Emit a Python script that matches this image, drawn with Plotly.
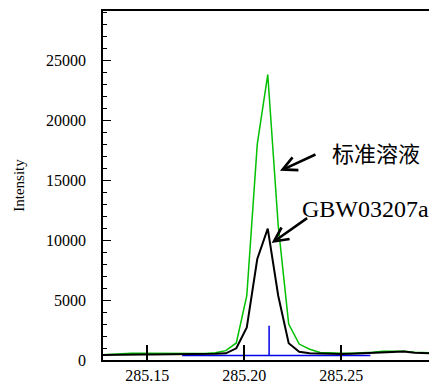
import plotly.graph_objects as go

# wavelength positions (nm) of sampled points
wavelength = [285.1257, 285.1311, 285.1365, 285.1419, 285.1473, 285.1527, 285.1581,
              285.1635, 285.1689, 285.1743, 285.1797, 285.1851, 285.1905, 285.1959,
              285.2013, 285.2067, 285.2121, 285.2175, 285.2229, 285.2283, 285.2337,
              285.2391, 285.2445, 285.2499, 285.2553, 285.2607, 285.2661, 285.2715,
              285.2769, 285.2823, 285.2877, 285.2931, 285.2985]

standard_solution = [420, 480, 540, 560, 560, 560, 560,
                     560, 560, 530, 540, 600, 780, 1420,
                     5360, 18000, 23800, 11200, 3000, 1330, 900,
                     620, 560, 560, 560, 590, 640, 720,
                     750, 740, 640, 600, 600]

gbw03207a = [420, 440, 450, 455, 455, 455, 460,
             460, 460, 480, 500, 520, 560, 975,
             2720, 8420, 10950, 5360, 1400, 680, 560,
             520, 500, 500, 520, 560, 620, 680,
             720, 700, 600, 560, 560]

ref_x = [285.168, 285.2128, 285.2128, 285.2128, 285.265]
ref_y = [380, 380, 2850, 380, 380]

x_tickvals = [285.15, 285.20, 285.25]
x_ticktext = ["285.15", "285.20", "285.25"]
y_tickvals = [0, 5000, 10000, 15000, 20000, 25000]
y_ticktext = ["0", "5000", "10000", "15000", "20000", "25000"]

label_std = "标准溶液"
label_gbw = "GBW03207a"

SERIF = "Liberation Serif, Times New Roman, serif"

fig = go.Figure()
fig.add_trace(go.Scatter(x=ref_x, y=ref_y, mode="lines",
                         line=dict(color="#0000e6", width=1.5), showlegend=False))
fig.add_trace(go.Scatter(x=wavelength, y=standard_solution, mode="lines",
                         line=dict(color="#00c000", width=1.5), showlegend=False))
fig.add_trace(go.Scatter(x=wavelength, y=gbw03207a, mode="lines",
                         line=dict(color="black", width=2), showlegend=False))

# arrows
fig.add_annotation(x=285.2184, y=15775, ax=37, ay=-17, axref="pixel", ayref="pixel",
                   text="", showarrow=True, arrowhead=5, arrowsize=1.1, arrowwidth=2.5,
                   arrowcolor="black")
fig.add_annotation(x=285.2141, y=9750, ax=37, ay=-26, axref="pixel", ayref="pixel",
                   text="", showarrow=True, arrowhead=5, arrowsize=1.1, arrowwidth=2.5,
                   arrowcolor="black")
# labels
fig.add_annotation(x=285.2701, y=17167, text=label_std, showarrow=False,
                   xanchor="center", yanchor="middle", xshift=-4, yshift=2,
                   font=dict(family="Noto Sans CJK SC", size=22, color="black"))
fig.add_annotation(x=285.2302, y=12583, text=label_gbw, showarrow=False,
                   xanchor="left", yanchor="middle", xshift=-3,
                   font=dict(family=SERIF, size=24, color="black"))

fig.update_layout(
    width=429, height=384,
    margin=dict(l=103, r=0, t=11, b=24),
    paper_bgcolor="white", plot_bgcolor="white",
    font=dict(family=SERIF, size=16, color="black"),
)
fig.update_xaxes(
    range=[285.1272, 285.2952],
    tickmode="array", tickvals=x_tickvals, ticktext=x_ticktext,
    ticks="inside", ticklen=15, tickwidth=1.5, tickcolor="black",
    showline=True, linecolor="black", linewidth=2, mirror=True,
    showgrid=False, zeroline=False,
    tickfont=dict(family=SERIF, size=16, color="black"),
)
fig.update_yaxes(
    range=[0, 29100],
    tickmode="array", tickvals=y_tickvals, ticktext=y_ticktext,
    ticks="inside", ticklen=8, tickwidth=1.2, tickcolor="black",
    minor=dict(ticks="inside", ticklen=4, dtick=1000, tick0=0, tickwidth=1,
               tickcolor="black", showgrid=False),
    showline=True, linecolor="black", linewidth=1.5,
    showgrid=False, zeroline=False,
    ticklabelstandoff=12,
    title=dict(text="Intensity", font=dict(family=SERIF, size=15), standoff=18),
    tickfont=dict(family=SERIF, size=16, color="black"),
)

fig.write_html("out.html", config={"displayModeBar": False},
               post_script="document.body.style.margin='0px';")
